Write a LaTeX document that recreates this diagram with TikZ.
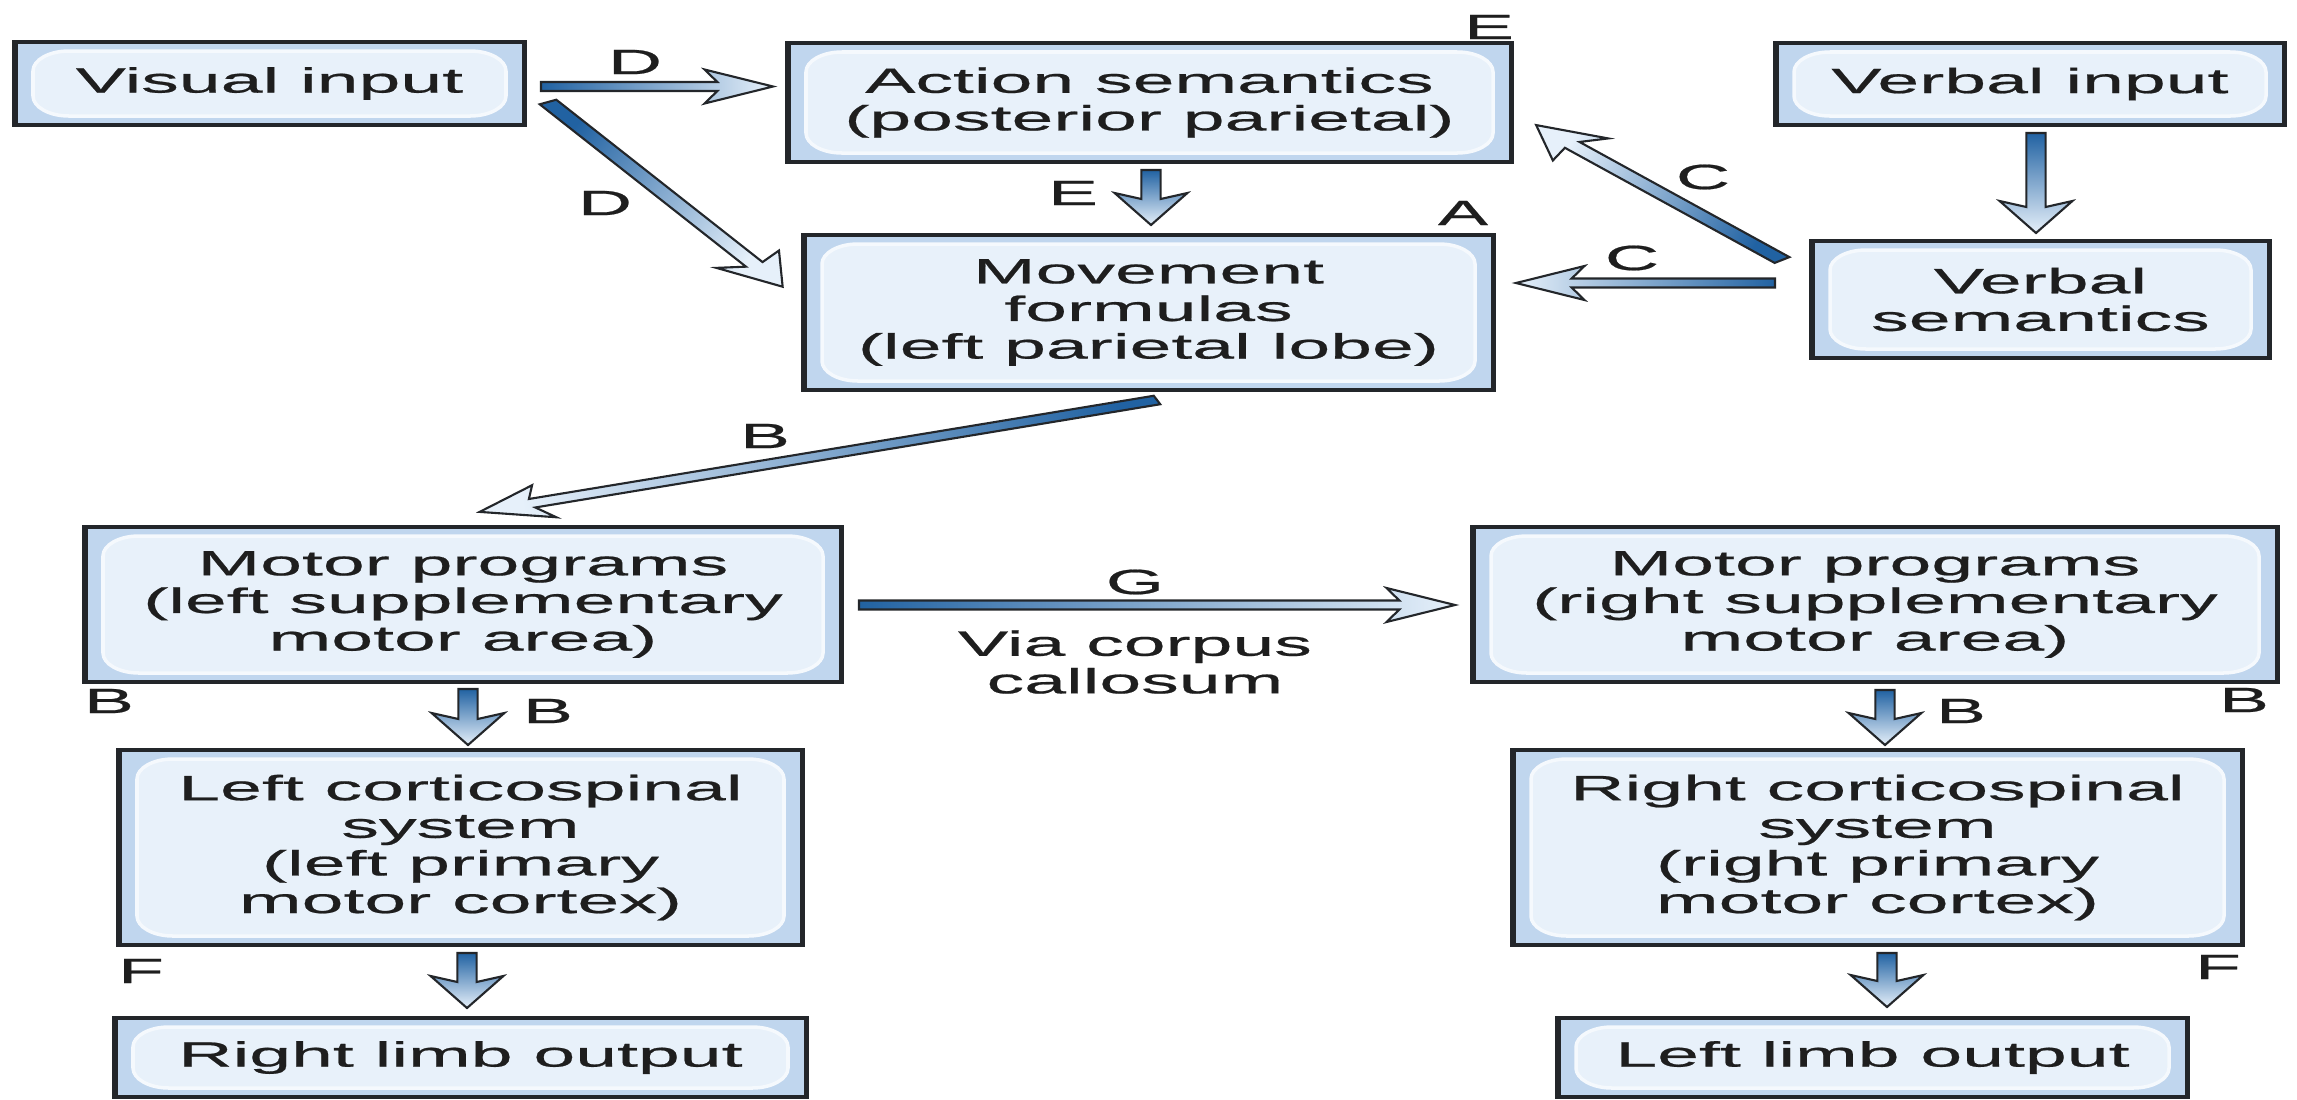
\documentclass[tikz,border=0pt]{standalone}
\usepackage{fontspec}
\setmainfont{Liberation Sans}[FakeStretch=2.14, FakeBold=0.6]
\usetikzlibrary{calc}

\definecolor{boxout}{RGB}{192,214,238}
\definecolor{boxin}{RGB}{232,241,250}
\definecolor{boxline}{RGB}{35,38,42}
\definecolor{arrdark}{RGB}{33,98,162}
\definecolor{arrlight}{RGB}{230,240,250}
\definecolor{txt}{RGB}{30,30,30}

\tikzset{
  box/.style={draw=boxline, line width=0.9pt, fill=boxout, align=center, text=txt, inner sep=0pt,
    font=\fontsize{10}{10.7}\selectfont,
    path picture={
      \fill[boxin, draw=white!55!boxin, line width=1pt]
        ([xshift=0.55cm,yshift=-0.09cm]path picture bounding box.north west)
        -- ([xshift=-0.55cm,yshift=-0.09cm]path picture bounding box.north east)
        arc[start angle=90, end angle=0, x radius=0.36cm, y radius=0.2cm]
        -- ([xshift=-0.19cm,yshift=0.29cm]path picture bounding box.south east)
        arc[start angle=0, end angle=-90, x radius=0.36cm, y radius=0.2cm]
        -- ([xshift=0.55cm,yshift=0.09cm]path picture bounding box.south west)
        arc[start angle=270, end angle=180, x radius=0.36cm, y radius=0.2cm]
        -- ([xshift=0.19cm,yshift=-0.29cm]path picture bounding box.north west)
        arc[start angle=180, end angle=90, x radius=0.36cm, y radius=0.2cm]
        -- cycle;
      \fill[boxline] (path picture bounding box.north west) rectangle
        ([xshift=0.035cm]path picture bounding box.south west);
      \fill[boxline] (path picture bounding box.north east) rectangle
        ([xshift=-0.035cm]path picture bounding box.south east);}},
  lab/.style={text=txt, font=\fontsize{10}{10.7}\selectfont, inner sep=0pt, align=center},
  fat/.style={draw=boxline, line width=0.6pt, line join=miter},
}

% fat shaded arrow, tail -> head (picture is stretched 2.14 in x)
\newcommand{\fatarrow}[2]{%
  \pgfpointdiff{\pgfpointanchor{#1}{center}}{\pgfpointanchor{#2}{center}}%
  \pgfgetlastxy{\faX}{\faY}%
  \pgfmathsetmacro{\faAng}{atan2(\faY,\faX/2.14)}%
  \pgfmathsetmacro{\faShd}{atan2(\faY,\faX)-90}%
  \pgfmathsetmacro{\faLen}{veclen(\faX/2.14,\faY)/28.4528}%
  \pgfmathsetmacro{\faHb}{\faLen-0.26}%
  \pgfmathsetmacro{\faHs}{\faLen-0.32}%
  \shade[fat, top color=arrlight, bottom color=arrdark, shading angle=\faShd,
    shift={(#1)}, xscale=2.14, rotate=\faAng]
    (0,-0.045) -- (\faHb,-0.045) -- (\faHs,-0.17) -- (\faLen,0)
    -- (\faHs,0.17) -- (\faHb,0.045) -- (0,0.045) -- cycle;
}

\begin{document}
\begin{tikzpicture}
\useasboundingbox (0,0) rectangle (22.97,-10.99);

% boxes
\node[box, minimum width=5.11cm, minimum height=0.83cm] (vis) at (2.695,-0.835) {Visual input};
\node[box, minimum width=7.25cm, minimum height=1.19cm] (act) at (11.495,-1.025) {Action semantics\\(posterior parietal)};
\node[box, minimum width=5.10cm, minimum height=0.82cm] (vin) at (20.30,-0.84) {Verbal input};
\node[box, minimum width=6.91cm, minimum height=1.55cm] (mov) at (11.485,-3.125) {Movement\\formulas\\(left parietal lobe)};
\node[box, minimum width=4.59cm, minimum height=1.17cm] (vsem) at (20.405,-2.995) {Verbal\\semantics};
\node[box, minimum width=7.58cm, minimum height=1.55cm] (mpl) at (4.63,-6.045) {Motor programs\\(left supplementary\\motor area)};
\node[box, minimum width=8.06cm, minimum height=1.55cm] (mpr) at (18.75,-6.045) {Motor programs\\(right supplementary\\motor area)};
\node[box, minimum width=6.85cm, minimum height=1.95cm] (lcs) at (4.605,-8.475) {Left corticospinal\\system\\(left primary\\motor cortex)};
\node[box, minimum width=7.31cm, minimum height=1.95cm] (rcs) at (18.775,-8.475) {Right corticospinal\\system\\(right primary\\motor cortex)};
\node[box, minimum width=6.93cm, minimum height=0.79cm] (rlo) at (4.605,-10.575) {Right limb output};
\node[box, minimum width=6.31cm, minimum height=0.79cm] (llo) at (18.725,-10.575) {Left limb output};

% arrow ends
\coordinate (d1t) at (5.41,-0.865); \coordinate (d1h) at (7.73,-0.865);
\coordinate (d2t) at (5.48,-1.02);  \coordinate (d2h) at (7.83,-2.87);
\coordinate (et)  at (11.51,-1.70); \coordinate (eh)  at (11.51,-2.25);
\coordinate (vt)  at (20.36,-1.33); \coordinate (vh)  at (20.36,-2.33);
\coordinate (c1t) at (17.82,-2.60); \coordinate (c1h) at (15.36,-1.25);
\coordinate (c2t) at (17.75,-2.83); \coordinate (c2h) at (15.16,-2.83);
\coordinate (bt)  at (11.57,-4.00); \coordinate (bh)  at (4.79,-5.12);
\coordinate (gt)  at (8.59,-6.05);  \coordinate (gh)  at (14.55,-6.05);
\coordinate (blt) at (4.68,-6.89);  \coordinate (blh) at (4.68,-7.45);
\coordinate (brt) at (18.85,-6.90); \coordinate (brh) at (18.85,-7.45);
\coordinate (flt) at (4.67,-9.53);  \coordinate (flh) at (4.67,-10.08);
\coordinate (frt) at (18.87,-9.53); \coordinate (frh) at (18.87,-10.07);

\fatarrow{d1t}{d1h}
\fatarrow{d2t}{d2h}
\fatarrow{et}{eh}
\fatarrow{vt}{vh}
\fatarrow{c1t}{c1h}
\fatarrow{c2t}{c2h}
\fatarrow{bt}{bh}
\fatarrow{gt}{gh}
\fatarrow{blt}{blh}
\fatarrow{brt}{brh}
\fatarrow{flt}{flh}
\fatarrow{frt}{frh}

% letters
\node[lab] (ld1) at (6.35,-0.62) {D};
\node[lab] (ld2) at (6.05,-2.03) {D};
\node[lab] (le1) at (14.89,-0.27) {E};
\node[lab] (le2) at (10.73,-1.93) {E};
\node[lab] (la)  at (14.63,-2.13) {A};
\node[lab] (lc1) at (17.03,-1.77) {C};
\node[lab] (lc2) at (16.32,-2.58) {C};
\node[lab] (lb1) at (7.65,-4.36) {B};
\node[lab] (lg)  at (11.35,-5.82) {G};
\node[lab] (via) at (11.35,-6.62) {Via corpus\\callosum};
\node[lab] (lb2) at (1.09,-7.01) {B};
\node[lab] (lb3) at (5.48,-7.11) {B};
\node[lab] (lb4) at (19.61,-7.11) {B};
\node[lab] (lb5) at (22.44,-7.00) {B};
\node[lab] (lf1) at (1.41,-9.71) {F};
\node[lab] (lf2) at (22.18,-9.67) {F};
\end{tikzpicture}
\end{document}
